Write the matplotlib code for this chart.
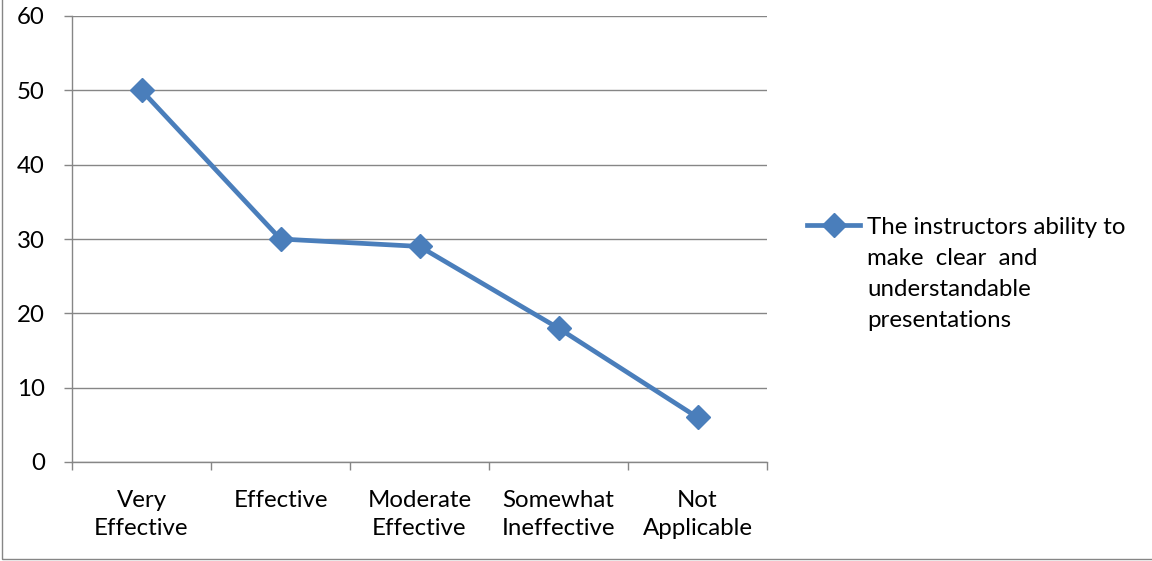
import matplotlib
matplotlib.use('Agg')
import matplotlib.pyplot as plt
from matplotlib.lines import Line2D
from matplotlib.patches import Rectangle
import numpy as np

categories = ['Very\nEffective', 'Effective', 'Moderate\nEffective', 'Somewhat\nIneffective', 'Not\nApplicable']
values = [50, 30, 29, 18, 6]
series_label = 'The instructors ability to\nmake  clear  and\nunderstandable\npresentations'

blue = '#4a7ebb'
grid = '#868686'

plt.rcParams['font.family'] = ['Lato', 'DejaVu Sans']
plt.rcParams['font.size'] = 17.3

fig = plt.figure(figsize=(11.52, 5.61), dpi=100)
ax = fig.add_axes([72 / 1152, 1 - 462 / 561, 695 / 1152, 446 / 561])

x = np.arange(len(categories))
ax.plot(x, values, color=blue, lw=3.4, marker='D', ms=12.5, mfc=blue, mec=blue, zorder=3)

ax.set_xlim(-0.5, len(categories) - 0.5)
ax.set_ylim(0, 60)
ax.set_yticks(range(0, 61, 10))
ax.yaxis.grid(True, color=grid, lw=1)
ax.set_axisbelow(True)

ax.set_xticks(np.arange(-0.5, len(categories), 1))
ax.set_xticklabels([])
ax.set_xticks(x, minor=True)
ax.set_xticklabels(categories, minor=True, linespacing=1.4)
ax.tick_params(axis='x', which='minor', length=0, pad=20.5)
ax.tick_params(axis='x', which='major', length=6, color=grid, width=1, direction='out')
ax.tick_params(axis='y', length=6, color=grid, width=1, direction='out', pad=13.5)

for s in ['top', 'right']:
    ax.spines[s].set_visible(False)
for s in ['left', 'bottom']:
    ax.spines[s].set_color(grid)
    ax.spines[s].set_linewidth(1)

# legend drawn by hand so the marker lines up with the first text line
lx0, lx1, ly = 807 / 1152, 860 / 1152, 1 - 225 / 561
fig.add_artist(Line2D([lx0, lx1], [ly, ly], transform=fig.transFigure, color=blue, lw=3.4))
fig.add_artist(Line2D([(lx0 + lx1) / 2], [ly], transform=fig.transFigure, marker='D', ms=12.5,
                      color=blue, lw=0))
fig.text(867 / 1152, 1 - 217 / 561, series_label, va='top', ha='left', linespacing=1.58)

# outer chart border (only the left and bottom edges show in the crop)
fig.add_artist(Rectangle((2 / 1152, 1 - 559 / 561), 1.2, 1.2, transform=fig.transFigure,
                         fill=False, edgecolor=grid, lw=1))

fig.savefig('out.png', dpi=100)
